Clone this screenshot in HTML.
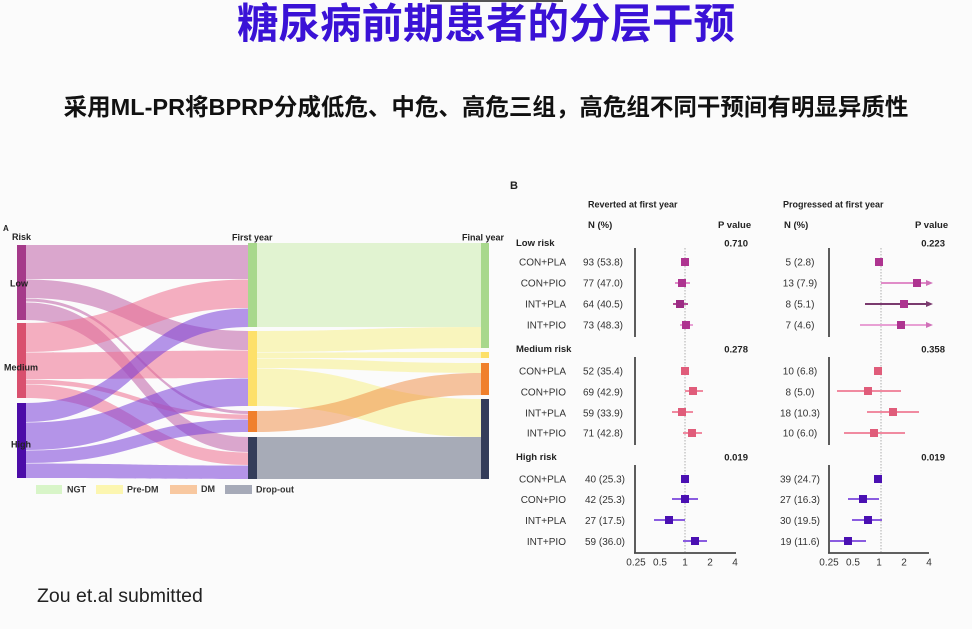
<!DOCTYPE html>
<html><head><meta charset="utf-8">
<style>
html,body{margin:0;padding:0;}
body{width:972px;height:629px;background:#fbfbfb;position:relative;overflow:hidden;font-family:"Liberation Sans",Arial,sans-serif;}
.title{position:absolute;left:0;top:3px;width:972px;text-align:center;font-family:"Liberation Sans","Noto Sans CJK SC",sans-serif;font-weight:700;font-size:41.5px;line-height:1;color:#3a12d6;white-space:nowrap;}
.sub{position:absolute;left:0;top:96px;width:972px;text-align:center;font-family:"Liberation Sans","Noto Sans CJK SC",sans-serif;font-weight:700;font-size:23.5px;line-height:1;color:#111;white-space:nowrap;}
svg{position:absolute;left:0;top:0;}
</style></head><body>
<div style="position:absolute;left:430px;top:0;width:133px;height:2px;background:#555;"></div>
<div class="title">糖尿病前期患者的分层干预</div>
<div class="sub">采用ML-PR将BPRP分成低危、中危、高危三组，高危组不同干预间有明显异质性</div>
<svg width="972" height="629" viewBox="0 0 972 629" xmlns="http://www.w3.org/2000/svg">
<!-- ===== Panel A Sankey ===== -->
<g>
<!-- right flows -->
<g>
<path d="M257,243 C369,243 369,243 481,243 L481,327 C369,327 369,327 257,327 Z" fill="#c8eca8" fill-opacity="0.5"/>
<path d="M257,331 C369,331 369,327 481,327 L481,348 C369,348 369,352 257,352 Z" fill="#f8ef80" fill-opacity="0.5"/>
<path d="M257,352.5 C369,352.5 369,352 481,352 L481,358 C369,358 369,358 257,358 Z" fill="#f8ef80" fill-opacity="0.5"/>
<path d="M257,358.5 C369,358.5 369,363 481,363 L481,373 C369,373 369,368 257,368 Z" fill="#f8ef80" fill-opacity="0.5"/>
<path d="M257,368.5 C369,368.5 369,399 481,399 L481,437 C369,437 369,406 257,406 Z" fill="#f8ef80" fill-opacity="0.5"/>
<path d="M257,411 C369,411 369,373 481,373 L481,395 C369,395 369,432 257,432 Z" fill="#f08a40" fill-opacity="0.5"/>
<path d="M257,437 C369,437 369,437 481,437 L481,479 C369,479 369,479 257,479 Z" fill="#545c74" fill-opacity="0.5"/>
</g>
<!-- left flows -->
<g fill-opacity="0.55">
<path d="M26,245 C137,245 137,245 248,245 L248,279 C137,279 137,279 26,279 Z" fill="#c060a8"/>
<path d="M26,279.5 C137,279.5 137,331 248,331 L248,350 C137,350 137,298 26,298 Z" fill="#c060a8"/>
<path d="M26,298.5 C137,298.5 137,411 248,411 L248,414 C137,414 137,301.5 26,301.5 Z" fill="#c060a8"/>
<path d="M26,302.5 C137,302.5 137,437 248,437 L248,452 C137,452 137,320 26,320 Z" fill="#c060a8"/>
<path d="M26,323 C137,323 137,279.5 248,279.5 L248,308 C137,308 137,352 26,352 Z" fill="#ef7090"/>
<path d="M26,352.5 C137,352.5 137,350.5 248,350.5 L248,378 C137,378 137,379 26,379 Z" fill="#ef7090"/>
<path d="M26,379.5 C137,379.5 137,414.5 248,414.5 L248,419 C137,419 137,384 26,384 Z" fill="#ef7090"/>
<path d="M26,384.5 C137,384.5 137,452.5 248,452.5 L248,465 C137,465 137,398 26,398 Z" fill="#ef7090"/>
<path d="M26,403 C137,403 137,308.5 248,308.5 L248,327 C137,327 137,422 26,422 Z" fill="#7a40d8"/>
<path d="M26,422.5 C137,422.5 137,378.5 248,378.5 L248,406 C137,406 137,450 26,450 Z" fill="#7a40d8"/>
<path d="M26,450.5 C137,450.5 137,419.5 248,419.5 L248,432 C137,432 137,463 26,463 Z" fill="#7a40d8"/>
<path d="M26,463.5 C137,463.5 137,465.5 248,465.5 L248,479 C137,479 137,478 26,478 Z" fill="#7a40d8"/>
</g>
<!-- nodes -->
<rect x="17" y="245" width="9" height="75" fill="#a53a8a"/>
<rect x="17" y="323" width="9" height="75" fill="#d9506e"/>
<rect x="17" y="403" width="9" height="75" fill="#4c0ca8"/>
<rect x="248" y="243" width="9" height="84" fill="#a8d88c"/>
<rect x="248" y="331" width="9" height="75" fill="#fde06a"/>
<rect x="248" y="411" width="9" height="21" fill="#f0802c"/>
<rect x="248" y="437" width="9" height="42" fill="#343d5a"/>
<rect x="481" y="243" width="8" height="105" fill="#a8d88c"/>
<rect x="481" y="352" width="8" height="6" fill="#fde06a"/>
<rect x="481" y="363" width="8" height="32" fill="#f0802c"/>
<rect x="481" y="399" width="8" height="80" fill="#343d5a"/>
<!-- labels -->
<g font-family="Liberation Sans, Arial, sans-serif" font-weight="700" font-size="9" fill="#222">
<text x="3" y="231" font-size="8">A</text>
<text x="12" y="240">Risk</text>
<text x="10" y="286.5">Low</text>
<text x="4" y="370.5">Medium</text>
<text x="11" y="447.5">High</text>
<text x="232" y="240.5">First year</text>
<text x="462" y="240.5">Final year</text>
</g>
<!-- legend -->
<rect x="36" y="485" width="26" height="9" fill="#d8f5c8"/>
<rect x="96" y="485" width="27" height="9" fill="#fcf6b0"/>
<rect x="170" y="485" width="27" height="9" fill="#f8c8a0"/>
<rect x="225" y="485" width="27" height="9" fill="#a6aab8"/>
<g font-family="Liberation Sans, Arial, sans-serif" font-weight="700" font-size="9" fill="#333">
<text x="67" y="492.5">NGT</text>
<text x="127" y="492.5">Pre-DM</text>
<text x="201" y="492">DM</text>
<text x="256" y="492.5">Drop-out</text>
</g>
</g>

<text x="37" y="602" font-family="Liberation Sans, Arial, sans-serif" font-size="19.5" fill="#222">Zou et.al submitted</text>

<!-- ===== Panel B ===== -->
<g font-family="Liberation Sans, Arial, sans-serif" fill="#222">
<text x="510" y="189" font-size="11" font-weight="700">B</text>
<text x="588" y="207.5" font-size="9" font-weight="700">Reverted at first year</text>
<text x="588" y="228" font-size="9.5" font-weight="700">N (%)</text>
<text x="718" y="228" font-size="9.5" font-weight="700">P value</text>
<text x="783" y="207.5" font-size="9" font-weight="700">Progressed at first year</text>
<text x="784" y="228" font-size="9.5" font-weight="700">N (%)</text>
<text x="915" y="228" font-size="9.5" font-weight="700">P value</text>

<g font-size="9.5" font-weight="700">
<text x="516" y="246">Low risk</text>
<text x="516" y="352">Medium risk</text>
<text x="516" y="460">High risk</text>
<text x="748" y="246.5" text-anchor="end">0.710</text>
<text x="748" y="352.5" text-anchor="end">0.278</text>
<text x="748" y="460.5" text-anchor="end">0.019</text>
<text x="945" y="246.5" text-anchor="end">0.223</text>
<text x="945" y="352.5" text-anchor="end">0.358</text>
<text x="945" y="460.5" text-anchor="end">0.019</text>
</g>

<g font-size="10" fill="#333" text-anchor="end">
<text x="566" y="265.5">CON+PLA</text>
<text x="566" y="286.5">CON+PIO</text>
<text x="566" y="307.5">INT+PLA</text>
<text x="566" y="328.5">INT+PIO</text>
<text x="566" y="374.5">CON+PLA</text>
<text x="566" y="395.5">CON+PIO</text>
<text x="566" y="416.5">INT+PLA</text>
<text x="566" y="436.5">INT+PIO</text>
<text x="566" y="482.5">CON+PLA</text>
<text x="566" y="503">CON+PIO</text>
<text x="566" y="524">INT+PLA</text>
<text x="566" y="545">INT+PIO</text>
</g>
<g font-size="10" fill="#333" text-anchor="middle">
<text x="603" y="265.5">93 (53.8)</text>
<text x="603" y="286.5">77 (47.0)</text>
<text x="603" y="307.5">64 (40.5)</text>
<text x="603" y="328.5">73 (48.3)</text>
<text x="603" y="374.5">52 (35.4)</text>
<text x="603" y="395.5">69 (42.9)</text>
<text x="603" y="416.5">59 (33.9)</text>
<text x="603" y="436.5">71 (42.8)</text>
<text x="605" y="482.5">40 (25.3)</text>
<text x="605" y="503">42 (25.3)</text>
<text x="605" y="524">27 (17.5)</text>
<text x="605" y="545">59 (36.0)</text>

<text x="800" y="265.5">5 (2.8)</text>
<text x="800" y="286.5">13 (7.9)</text>
<text x="800" y="307.5">8 (5.1)</text>
<text x="800" y="328.5">7 (4.6)</text>
<text x="800" y="374.5">10 (6.8)</text>
<text x="800" y="395.5">8 (5.0)</text>
<text x="800" y="416.5">18 (10.3)</text>
<text x="800" y="436.5">10 (6.0)</text>
<text x="800" y="482.5">39 (24.7)</text>
<text x="800" y="503">27 (16.3)</text>
<text x="800" y="524">30 (19.5)</text>
<text x="800" y="545">19 (11.6)</text>
</g>

<!-- tick labels -->
<g font-size="10" fill="#333" text-anchor="middle">
<text x="636" y="565.5">0.25</text>
<text x="660" y="565.5">0.5</text>
<text x="685" y="565.5">1</text>
<text x="710" y="565.5">2</text>
<text x="735" y="565.5">4</text>
<text x="829" y="565.5">0.25</text>
<text x="853" y="565.5">0.5</text>
<text x="879" y="565.5">1</text>
<text x="904" y="565.5">2</text>
<text x="929" y="565.5">4</text>
</g>
</g>

<!-- axes -->
<g stroke="#4a4a4a" stroke-width="1.8" fill="none">
<line x1="635" y1="248" x2="635" y2="337"/>
<line x1="635" y1="357" x2="635" y2="445"/>
<line x1="635" y1="465" x2="635" y2="553"/>
<line x1="634" y1="553" x2="736" y2="553"/>
<line x1="829" y1="248" x2="829" y2="337"/>
<line x1="829" y1="357" x2="829" y2="445"/>
<line x1="829" y1="465" x2="829" y2="553"/>
<line x1="828" y1="553" x2="929" y2="553"/>
</g>
<g stroke="#999" stroke-width="0.8" stroke-dasharray="1.5,1.5">
<line x1="685" y1="248" x2="685" y2="552"/>
<line x1="881" y1="248" x2="881" y2="552"/>
</g>

<!-- CI lines left -->
<g stroke-width="2">
<line x1="675" y1="283" x2="690" y2="283" stroke="#e08cc8"/>
<line x1="673" y1="304" x2="688" y2="304" stroke="#b04c94"/>
<line x1="680" y1="325" x2="693" y2="325" stroke="#e8a0d4"/>
<line x1="685" y1="391" x2="703" y2="391" stroke="#f08aa0"/>
<line x1="672" y1="412" x2="693" y2="412" stroke="#f08aa0"/>
<line x1="683" y1="433" x2="702" y2="433" stroke="#f08aa0"/>
<line x1="672" y1="499" x2="698" y2="499" stroke="#8a5ce0"/>
<line x1="654" y1="520" x2="685" y2="520" stroke="#8a5ce0"/>
<line x1="683" y1="541" x2="707" y2="541" stroke="#8a5ce0"/>
<!-- right -->
<line x1="881" y1="283" x2="928" y2="283" stroke="#e08cc8"/>
<line x1="865" y1="304" x2="928" y2="304" stroke="#7a3a6e"/>
<line x1="860" y1="325" x2="928" y2="325" stroke="#e8a0d4"/>
<line x1="837" y1="391" x2="901" y2="391" stroke="#f08aa0"/>
<line x1="867" y1="412" x2="919" y2="412" stroke="#f08aa0"/>
<line x1="844" y1="433" x2="905" y2="433" stroke="#f08aa0"/>
<line x1="848" y1="499" x2="879" y2="499" stroke="#8a5ce0"/>
<line x1="852" y1="520" x2="882" y2="520" stroke="#8a5ce0"/>
<line x1="830" y1="541" x2="866" y2="541" stroke="#8a5ce0"/>
</g>
<polygon points="926,280 933,283 926,286" fill="#d070b8"/>
<polygon points="926,301 933,304 926,307" fill="#7a3a6e"/>
<polygon points="926,322 933,325 926,328" fill="#d070b8"/>

<!-- markers left -->
<g>
<rect x="681" y="258" width="8" height="8" fill="#ae3490"/>
<rect x="678" y="279" width="8" height="8" fill="#ae3490"/>
<rect x="676" y="300" width="8" height="8" fill="#9c2c84"/>
<rect x="682" y="321" width="8" height="8" fill="#ae3490"/>
<rect x="681" y="367" width="8" height="8" fill="#e05c7a"/>
<rect x="689" y="387" width="8" height="8" fill="#e05c7a"/>
<rect x="678" y="408" width="8" height="8" fill="#e05c7a"/>
<rect x="688" y="429" width="8" height="8" fill="#e05c7a"/>
<rect x="681" y="475" width="8" height="8" fill="#4a10b2"/>
<rect x="681" y="495" width="8" height="8" fill="#4a10b2"/>
<rect x="665" y="516" width="8" height="8" fill="#4a10b2"/>
<rect x="691" y="537" width="8" height="8" fill="#4a10b2"/>
<!-- right -->
<rect x="875" y="258" width="8" height="8" fill="#ae3490"/>
<rect x="913" y="279" width="8" height="8" fill="#ae3490"/>
<rect x="900" y="300" width="8" height="8" fill="#ae3490"/>
<rect x="897" y="321" width="8" height="8" fill="#ae3490"/>
<rect x="874" y="367" width="8" height="8" fill="#e05c7a"/>
<rect x="864" y="387" width="8" height="8" fill="#e05c7a"/>
<rect x="889" y="408" width="8" height="8" fill="#e05c7a"/>
<rect x="870" y="429" width="8" height="8" fill="#e05c7a"/>
<rect x="874" y="475" width="8" height="8" fill="#4a10b2"/>
<rect x="859" y="495" width="8" height="8" fill="#4a10b2"/>
<rect x="864" y="516" width="8" height="8" fill="#4a10b2"/>
<rect x="844" y="537" width="8" height="8" fill="#4a10b2"/>
</g>
</svg>
</body></html>
